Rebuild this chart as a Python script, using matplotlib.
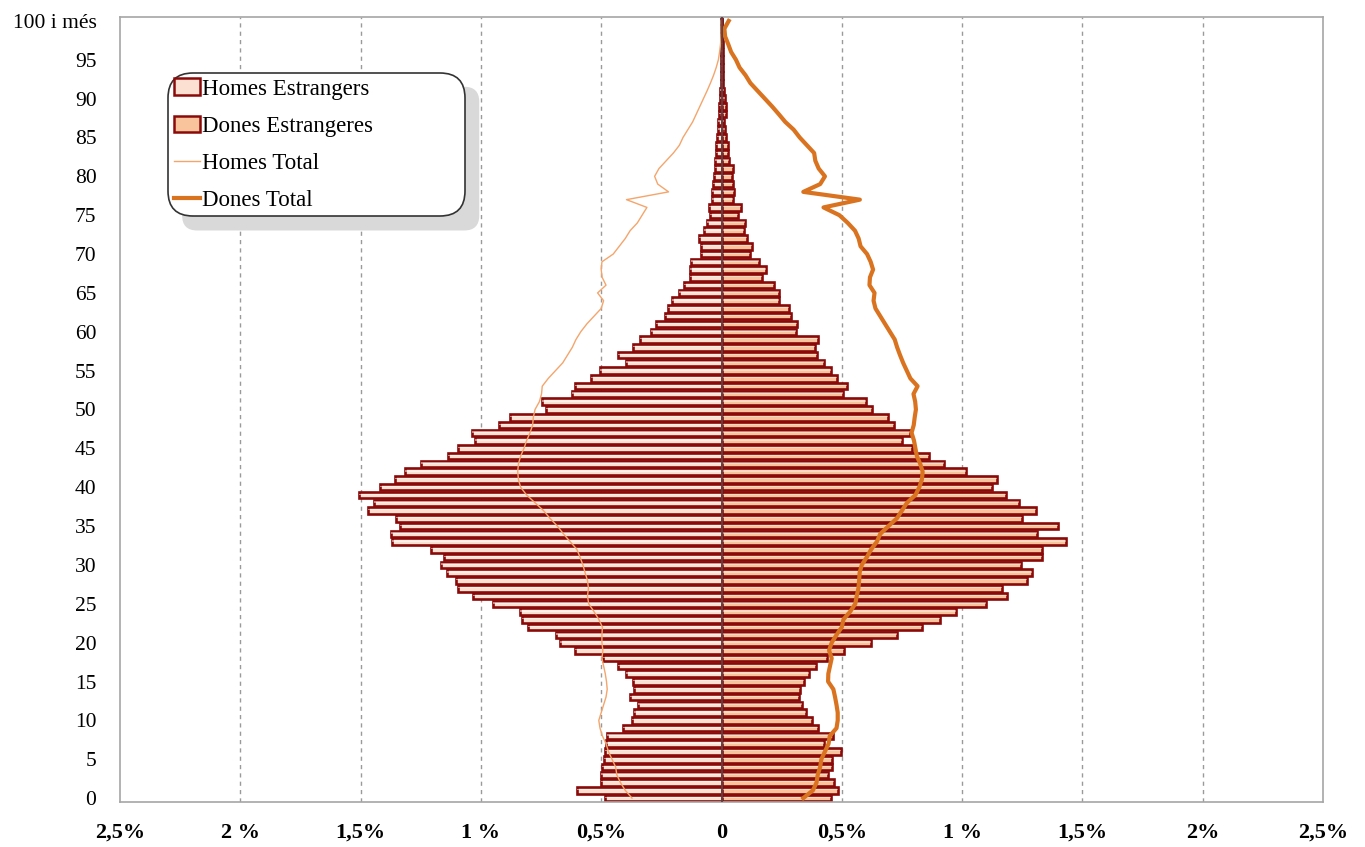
import numpy as np
import matplotlib
matplotlib.use("Agg")
import matplotlib.pyplot as plt
from matplotlib.patches import Patch, FancyBboxPatch
from matplotlib.lines import Line2D
from matplotlib.transforms import IdentityTransform

# edats 0..100 (100 = "100 i més"), valors en % de la població
edats = np.arange(101)

homes_estrangers = [
    0.486, 0.600, 0.499, 0.502, 0.497, 0.490, 0.486, 0.482, 0.476, 0.408,
    0.372, 0.364, 0.346, 0.381, 0.365, 0.367, 0.396, 0.431, 0.493, 0.607,
    0.670, 0.686, 0.803, 0.831, 0.837, 0.949, 1.032, 1.094, 1.104, 1.140,
    1.167, 1.154, 1.208, 1.368, 1.372, 1.337, 1.351, 1.469, 1.446, 1.507,
    1.421, 1.358, 1.317, 1.247, 1.136, 1.094, 1.025, 1.035, 0.925, 0.879,
    0.729, 0.744, 0.620, 0.609, 0.544, 0.506, 0.395, 0.431, 0.367, 0.339,
    0.295, 0.274, 0.233, 0.223, 0.205, 0.175, 0.154, 0.133, 0.129, 0.125,
    0.085, 0.087, 0.094, 0.071, 0.060, 0.048, 0.052, 0.039, 0.039, 0.035,
    0.032, 0.028, 0.025, 0.021, 0.022, 0.018, 0.015, 0.015, 0.011, 0.010,
    0.008, 0.007, 0.004, 0.003, 0.003, 0.002, 0.002, 0.002, 0.001, 0.001,
    0.001,
]

dones_estrangeres = [
    0.456, 0.486, 0.469, 0.444, 0.458, 0.461, 0.497, 0.424, 0.465, 0.400,
    0.378, 0.350, 0.333, 0.322, 0.326, 0.344, 0.364, 0.392, 0.438, 0.511,
    0.622, 0.729, 0.833, 0.910, 0.976, 1.100, 1.188, 1.164, 1.271, 1.292,
    1.243, 1.331, 1.331, 1.431, 1.310, 1.399, 1.247, 1.308, 1.236, 1.181,
    1.125, 1.146, 1.018, 0.926, 0.861, 0.792, 0.750, 0.785, 0.718, 0.694,
    0.625, 0.600, 0.504, 0.523, 0.480, 0.455, 0.424, 0.397, 0.390, 0.400,
    0.310, 0.315, 0.290, 0.280, 0.240, 0.237, 0.220, 0.167, 0.184, 0.157,
    0.118, 0.126, 0.106, 0.095, 0.097, 0.070, 0.080, 0.046, 0.052, 0.048,
    0.043, 0.046, 0.032, 0.025, 0.028, 0.018, 0.015, 0.011, 0.018, 0.020,
    0.014, 0.011, 0.008, 0.006, 0.008, 0.007, 0.006, 0.005, 0.004, 0.002,
    0.003,
]

homes_total = [
    0.372, 0.400, 0.420, 0.435, 0.440, 0.455, 0.470, 0.480, 0.495, 0.505,
    0.510, 0.500, 0.490, 0.480, 0.475, 0.478, 0.483, 0.490, 0.497, 0.493,
    0.497, 0.497, 0.495, 0.510, 0.530, 0.552, 0.557, 0.553, 0.557, 0.567,
    0.576, 0.588, 0.601, 0.629, 0.657, 0.682, 0.713, 0.740, 0.775, 0.810,
    0.835, 0.844, 0.847, 0.844, 0.835, 0.821, 0.810, 0.796, 0.785, 0.782,
    0.775, 0.757, 0.748, 0.745, 0.720, 0.690, 0.660, 0.640, 0.620, 0.605,
    0.585, 0.560, 0.530, 0.500, 0.490, 0.515, 0.480, 0.496, 0.500, 0.497,
    0.450, 0.425, 0.400, 0.380, 0.350, 0.330, 0.310, 0.395, 0.220, 0.265,
    0.278, 0.260, 0.230, 0.200, 0.175, 0.160, 0.140, 0.120, 0.105, 0.090,
    0.075, 0.060, 0.046, 0.033, 0.022, 0.013, 0.008, 0.004, 0.002, 0.001,
    0.001,
]

dones_total = [
    0.340, 0.380, 0.395, 0.400, 0.410, 0.415, 0.430, 0.445, 0.450, 0.478,
    0.483, 0.483, 0.478, 0.472, 0.465, 0.443, 0.444, 0.451, 0.458, 0.447,
    0.458, 0.478, 0.500, 0.507, 0.535, 0.556, 0.562, 0.569, 0.572, 0.574,
    0.583, 0.604, 0.622, 0.646, 0.660, 0.694, 0.729, 0.750, 0.771, 0.806,
    0.822, 0.833, 0.836, 0.826, 0.812, 0.806, 0.800, 0.790, 0.799, 0.803,
    0.808, 0.805, 0.798, 0.815, 0.785, 0.770, 0.755, 0.742, 0.730, 0.720,
    0.700, 0.680, 0.660, 0.640, 0.632, 0.636, 0.615, 0.617, 0.630, 0.620,
    0.605, 0.578, 0.570, 0.555, 0.525, 0.490, 0.424, 0.575, 0.340, 0.410,
    0.430, 0.404, 0.390, 0.385, 0.355, 0.325, 0.300, 0.265, 0.238, 0.210,
    0.180, 0.150, 0.120, 0.100, 0.075, 0.060, 0.040, 0.028, 0.015, 0.012,
    0.030,
]

ytick_pos = list(range(0, 101, 5))
ytick_labels = [str(v) for v in range(0, 100, 5)] + ["100 i més"]
xtick_pos = [-2.5, -2, -1.5, -1, -0.5, 0, 0.5, 1, 1.5, 2, 2.5]
xtick_labels = ["2,5%", "2 %", "1,5%", "1 %", "0,5%", "0",
                "0,5%", "1 %", "1,5%", "2%", "2,5%"]

plt.rcParams['font.family'] = ['Liberation Serif', 'DejaVu Serif']

vora = '#8A0A0A'
color_homes = '#FCE1D3'
color_dones = '#F9C39C'
color_htot = '#F4A56C'
color_dtot = '#D9731F'

fig = plt.figure(figsize=(13.65, 8.47), dpi=100)
ax = fig.add_axes([120 / 1365, 1 - 802 / 847, 1203 / 1365, 785 / 847])

# barres
h = -np.array(homes_estrangers)
d = np.array(dones_estrangeres)
ax.barh(edats, h, height=0.84, color=color_homes, edgecolor=vora, linewidth=1.9, zorder=2)
ax.barh(edats, d, height=0.84, color=color_dones, edgecolor=vora, linewidth=1.9, zorder=2)
# reflex clar dins de cada barra
ax.barh(edats + 0.1, h, height=0.18, color='white', alpha=0.5, linewidth=0, zorder=2.1)
ax.barh(edats + 0.1, d, height=0.18, color='white', alpha=0.4, linewidth=0, zorder=2.1)

# línies del total
ax.plot(-np.array(homes_total), edats, color=color_htot, linewidth=1.0, zorder=3)
ax.plot(dones_total, edats, color=color_dtot, linewidth=3.0, zorder=3,
        solid_joinstyle='round')

ax.axvline(0, color='#5a4444', linewidth=1.3, zorder=3.5)

ax.set_xlim(-2.5, 2.5)
ax.set_ylim(-0.5, 100.5)
for g in [-2, -1.5, -1, -0.5, 0.5, 1, 1.5, 2]:
    ax.axvline(g, color='#9a9a9a', linewidth=1.0, linestyle=(0, (3, 3)), zorder=1)

ax.set_yticks(ytick_pos)
ax.set_yticklabels(ytick_labels, fontsize=15.5)
ax.set_xticks(xtick_pos)
ax.set_xticklabels(xtick_labels, fontsize=16, fontweight='bold')
ax.tick_params(axis='y', length=0, pad=17)
ax.tick_params(axis='x', length=0, pad=15)
for s in ax.spines.values():
    s.set_color('#a6a6a6')
    s.set_linewidth(1.2)

handles = [
    Patch(facecolor=color_homes, edgecolor=vora, linewidth=1.8),
    Patch(facecolor=color_dones, edgecolor=vora, linewidth=1.8),
    Line2D([], [], color=color_htot, linewidth=1.0),
    Line2D([], [], color=color_dtot, linewidth=3.0),
]
noms = ["Homes Estrangers", "Dones Estrangeres", "Homes Total", "Dones Total"]
leg = ax.legend(handles, noms, loc='upper left',
                bbox_to_anchor=(0.04, 0.75, 0.247, 0.179), mode='expand',
                fontsize=16.5, frameon=True, fancybox=True, framealpha=1,
                edgecolor='#333333', handlelength=1.15, handletextpad=0.1,
                labelspacing=0.7, borderpad=0.25, borderaxespad=0)
leg.get_frame().set_linewidth(1.2)
leg.get_frame().set_boxstyle('round', pad=0, rounding_size=1.1)
leg.set_zorder(6)

# ombra de la llegenda
fig.canvas.draw()
bb = leg.get_frame().get_window_extent(fig.canvas.get_renderer())
ombra = FancyBboxPatch((bb.x0 + 14, bb.y0 - 14), bb.width, bb.height,
                       boxstyle='round,pad=0,rounding_size=15',
                       transform=IdentityTransform(), facecolor='#d9d9d9',
                       edgecolor='none', zorder=5.5)
ax.add_artist(ombra)

fig.savefig('out.png', dpi=100)
